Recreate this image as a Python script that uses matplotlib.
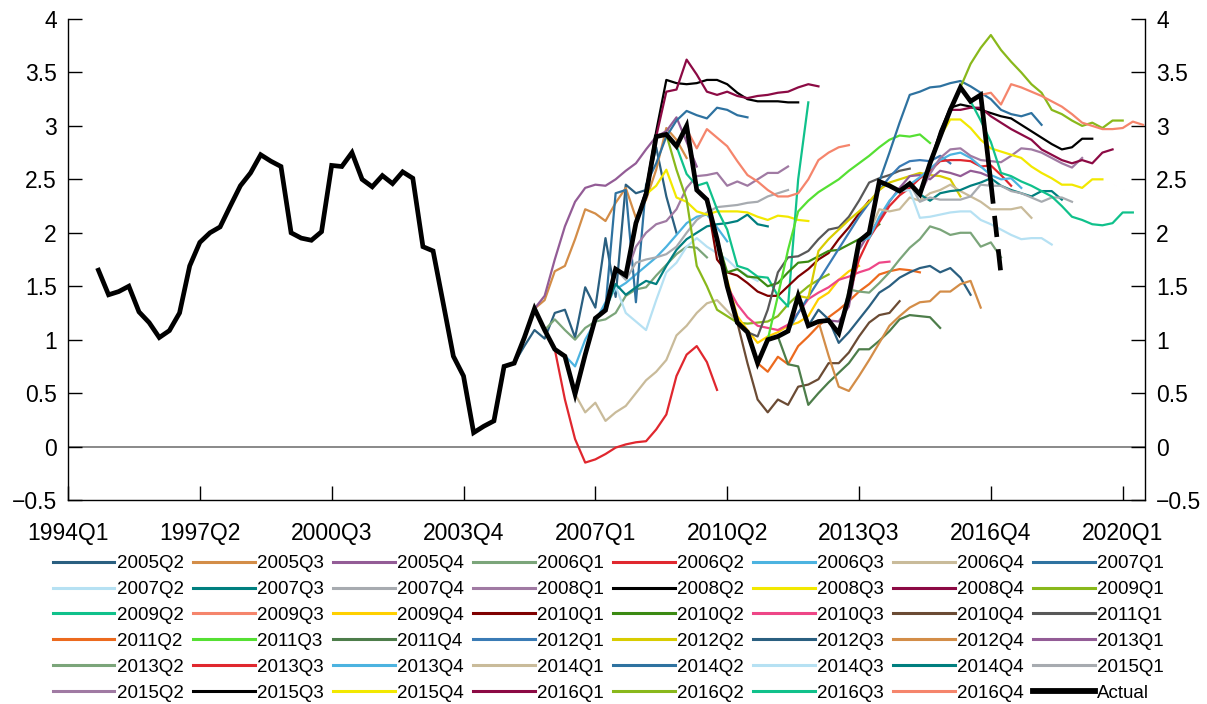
import matplotlib
matplotlib.use("Agg")
import matplotlib.pyplot as plt
from matplotlib.lines import Line2D
import numpy as np

# ---------------- data ----------------
actual_start = "1994Q4"
actual = [1.65, 1.42, 1.45, 1.50, 1.26, 1.16, 1.02, 1.085, 1.25, 1.69, 1.91, 2.00, 2.055,
          2.25, 2.44, 2.56, 2.73, 2.67, 2.62, 2.00, 1.95, 1.93, 2.01, 2.63, 2.62, 2.75,
          2.50, 2.43, 2.535, 2.46, 2.57, 2.51, 1.87, 1.83, 1.34, 0.845, 0.66, 0.13, 0.19,
          0.24, 0.75, 0.78, 1.02, 1.29, 1.09, 0.91, 0.845, 0.49, 0.86, 1.20, 1.275, 1.66,
          1.60, 2.09, 2.36, 2.90, 2.92, 2.81, 3.00, 2.40, 2.31, 1.94, 1.50, 1.16, 1.07,
          0.78, 1.00, 1.03, 1.08, 1.41, 1.13, 1.17, 1.18, 1.06, 1.41, 1.92, 2.00, 2.48,
          2.44, 2.39, 2.46, 2.36, 2.65, 2.90, 3.15, 3.36, 3.23, 3.29, 2.47]
actual_last = 1.61          # dashed final segment (2017Q1)

vintages = ["2005Q2", "2005Q3", "2005Q4", "2006Q1", "2006Q2", "2006Q3", "2006Q4", "2007Q1",
            "2007Q2", "2007Q3", "2007Q4", "2008Q1", "2008Q2", "2008Q3", "2008Q4", "2009Q1",
            "2009Q2", "2009Q3", "2009Q4", "2010Q1", "2010Q2", "2010Q3", "2010Q4", "2011Q1",
            "2011Q2", "2011Q3", "2011Q4", "2012Q1", "2012Q2", "2012Q3", "2012Q4", "2013Q1",
            "2013Q2", "2013Q3", "2013Q4", "2014Q1", "2014Q2", "2014Q3", "2014Q4", "2015Q1",
            "2015Q2", "2015Q3", "2015Q4", "2016Q1", "2016Q2", "2016Q3", "2016Q4"]

# each forecast path starts in the quarter before its vintage
f2005Q2 = [0.78, 0.94, 1.09, 1.01, 1.25, 1.28, 1.02, 1.49, 1.30, 1.95, 1.40, 2.45, 2.37, 2.40, 2.80, 2.34, 2.00]
f2005Q3 = [1.00, 1.29, 1.37, 1.64, 1.69, 1.94, 2.22, 2.18, 2.11, 2.28, 2.42, 2.14, 2.31, 2.59, 2.98, 2.87, 2.70]
f2005Q4 = [1.29, 1.41, 1.75, 2.06, 2.29, 2.42, 2.45, 2.44, 2.50, 2.58, 2.65, 2.78, 2.90, 2.95, 3.08, 2.85, 2.62]
f2006Q1 = [1.09, 1.19, 1.09, 1.00, 1.11, 1.17, 1.19, 1.25, 1.41, 1.47, 1.49, 1.60, 1.70, 1.80, 1.87, 1.86, 1.77]
f2006Q2 = [0.91, 0.44, 0.07, -0.15, -0.12, -0.07, -0.01, 0.02, 0.04, 0.05, 0.16, 0.30, 0.66, 0.86, 0.94, 0.79, 0.53]
f2006Q3 = [0.85, 0.75, 1.00, 1.17, 1.35, 1.47, 1.53, 1.61, 1.69, 1.77, 1.87, 1.98, 2.09, 2.15, 2.17, 2.05, 1.92]
f2006Q4 = [0.49, 0.32, 0.41, 0.24, 0.32, 0.38, 0.50, 0.62, 0.70, 0.81, 1.04, 1.13, 1.25, 1.34, 1.37, 1.27, 1.17]
f2007Q1 = [0.86, 1.20, 1.30, 2.37, 2.40, 1.35, 2.45, 2.65, 2.90, 3.05, 3.14, 3.10, 3.07, 3.17, 3.15, 3.10, 3.08]
f2007Q2 = [1.20, 1.28, 1.50, 1.25, 1.17, 1.09, 1.37, 1.63, 1.72, 1.87, 1.95, 1.87, 1.81, 1.75, 1.66, 1.60, 1.55]
f2007Q3 = [1.28, 1.52, 1.42, 1.49, 1.55, 1.52, 1.69, 1.84, 1.94, 2.00, 2.06, 2.08, 2.09, 2.11, 2.17, 2.08, 2.06]
f2007Q4 = [1.66, 1.56, 1.72, 1.75, 1.77, 1.80, 1.87, 2.00, 2.12, 2.19, 2.24, 2.25, 2.26, 2.28, 2.29, 2.34, 2.37, 2.40]
f2008Q1 = [1.60, 1.87, 2.00, 2.08, 2.11, 2.22, 2.42, 2.53, 2.54, 2.56, 2.44, 2.48, 2.44, 2.50, 2.56, 2.56, 2.62]
f2008Q2 = [2.09, 2.40, 2.95, 3.43, 3.40, 3.39, 3.40, 3.43, 3.43, 3.39, 3.31, 3.25, 3.23, 3.23, 3.23, 3.22, 3.22]
f2008Q3 = [2.36, 2.44, 2.59, 2.33, 2.29, 2.20, 2.17, 2.20, 2.20, 2.20, 2.19, 2.15, 2.12, 2.16, 2.15, 2.12, 2.11]
f2008Q4 = [2.90, 3.32, 3.34, 3.62, 3.48, 3.32, 3.29, 3.32, 3.28, 3.26, 3.28, 3.29, 3.31, 3.32, 3.36, 3.39, 3.37]
f2009Q1 = [2.92, 2.59, 2.31, 1.69, 1.50, 1.28, 1.22, 1.16, 1.15, 1.16, 1.17, 1.22, 1.33, 1.42, 1.50, 1.56, 1.61]
f2009Q2 = [2.81, 2.55, 2.44, 2.47, 2.22, 2.03, 1.69, 1.66, 1.59, 1.58, 1.41, 1.31, 2.50, 3.22]
f2009Q3 = [2.97, 2.79, 2.97, 2.89, 2.81, 2.67, 2.54, 2.48, 2.40, 2.34, 2.34, 2.37, 2.50, 2.68, 2.75, 2.80, 2.82]
f2009Q4 = [2.40, 2.31, 1.95, 1.56, 1.22, 1.09, 0.97, 1.03, 1.07, 1.13, 1.16, 1.22, 1.38, 1.44, 1.56, 1.64, 1.69]
f2010Q1 = [2.31, 1.75, 1.63, 1.60, 1.53, 1.45, 1.41, 1.41, 1.50, 1.59, 1.66, 1.75, 1.81, 1.94, 2.05, 2.18, 2.30]
f2010Q2 = [1.94, 1.63, 1.66, 1.59, 1.58, 1.50, 1.53, 1.63, 1.72, 1.73, 1.78, 1.83, 1.84, 1.89, 1.94, 2.00, 2.08]
f2010Q3 = [1.50, 1.33, 1.21, 1.13, 1.11, 1.09, 1.14, 1.25, 1.38, 1.44, 1.49, 1.56, 1.59, 1.63, 1.66, 1.72, 1.73]
f2010Q4 = [1.16, 0.78, 0.44, 0.32, 0.44, 0.39, 0.56, 0.58, 0.63, 0.78, 0.78, 0.88, 1.03, 1.16, 1.23, 1.25, 1.36]
f2011Q1 = [1.07, 1.03, 1.28, 1.63, 1.77, 1.78, 1.83, 1.94, 2.03, 2.05, 2.15, 2.30, 2.47, 2.51, 2.54, 2.58, 2.60]
f2011Q2 = [0.78, 0.70, 0.84, 0.77, 0.94, 1.03, 1.13, 1.21, 1.28, 1.36, 1.45, 1.52, 1.61, 1.64, 1.66, 1.65, 1.63]
f2011Q3 = [1.00, 1.41, 1.84, 2.20, 2.30, 2.38, 2.44, 2.50, 2.58, 2.65, 2.72, 2.80, 2.87, 2.91, 2.90, 2.92, 2.84]
f2011Q4 = [1.03, 0.77, 0.75, 0.39, 0.50, 0.60, 0.69, 0.78, 0.91, 0.91, 0.99, 1.08, 1.19, 1.23, 1.22, 1.21, 1.11]
f2012Q1 = [1.08, 1.25, 1.40, 1.55, 1.70, 1.85, 2.00, 2.15, 2.28, 2.40, 2.52, 2.62, 2.67, 2.68, 2.67, 2.72, 2.65]
f2012Q2 = [1.41, 1.39, 1.83, 1.94, 2.03, 2.12, 2.20, 2.29, 2.40, 2.47, 2.50, 2.53, 2.56, 2.54, 2.53, 2.50, 2.34]
f2012Q3 = [1.13, 1.28, 1.19, 0.97, 1.07, 1.19, 1.31, 1.44, 1.50, 1.58, 1.63, 1.67, 1.69, 1.63, 1.67, 1.58, 1.42]
f2012Q4 = [1.17, 0.85, 0.56, 0.52, 0.66, 0.81, 0.97, 1.13, 1.22, 1.30, 1.35, 1.36, 1.45, 1.45, 1.52, 1.55, 1.30]
f2013Q1 = [1.18, 1.17, 1.31, 1.84, 2.00, 2.12, 2.29, 2.42, 2.53, 2.54, 2.50, 2.58, 2.56, 2.53, 2.58, 2.56, 2.52]
f2013Q2 = [1.06, 1.47, 1.45, 1.44, 1.53, 1.63, 1.75, 1.86, 1.94, 2.06, 2.03, 1.98, 2.00, 2.00, 1.87, 1.91, 1.77]
f2013Q3 = [1.41, 1.75, 1.95, 2.10, 2.25, 2.35, 2.42, 2.51, 2.58, 2.67, 2.68, 2.68, 2.67, 2.62, 2.63, 2.54, 2.44]
f2013Q4 = [1.92, 1.95, 2.15, 2.30, 2.40, 2.45, 2.52, 2.60, 2.68, 2.73, 2.75, 2.70, 2.62, 2.54, 2.50, 2.51, 2.42]
f2014Q1 = [2.00, 2.22, 2.20, 2.22, 2.33, 2.30, 2.37, 2.40, 2.45, 2.39, 2.34, 2.29, 2.22, 2.22, 2.22, 2.24, 2.14]
f2014Q2 = [2.48, 2.75, 3.03, 3.29, 3.32, 3.36, 3.37, 3.40, 3.42, 3.37, 3.31, 3.25, 3.15, 3.11, 3.09, 3.12, 3.01]
f2014Q3 = [2.44, 2.39, 2.40, 2.14, 2.15, 2.17, 2.19, 2.20, 2.20, 2.12, 2.08, 2.03, 1.98, 1.94, 1.95, 1.95, 1.89]
f2014Q4 = [2.39, 2.45, 2.36, 2.30, 2.37, 2.39, 2.40, 2.44, 2.47, 2.51, 2.44, 2.40, 2.37, 2.34, 2.39, 2.39, 2.31]
f2015Q1 = [2.46, 2.29, 2.33, 2.31, 2.31, 2.31, 2.34, 2.45, 2.44, 2.44, 2.39, 2.37, 2.33, 2.29, 2.33, 2.33, 2.29]
f2015Q2 = [2.36, 2.55, 2.70, 2.78, 2.79, 2.72, 2.68, 2.67, 2.66, 2.72, 2.79, 2.78, 2.75, 2.70, 2.65, 2.61, 2.70]
f2015Q3 = [2.65, 2.95, 3.17, 3.20, 3.18, 3.15, 3.12, 3.09, 3.07, 3.01, 2.95, 2.89, 2.83, 2.78, 2.80, 2.88, 2.88]
f2015Q4 = [2.90, 3.06, 3.06, 2.98, 2.87, 2.79, 2.76, 2.73, 2.70, 2.62, 2.56, 2.51, 2.45, 2.45, 2.42, 2.50, 2.50]
f2016Q1 = [3.15, 3.15, 3.17, 3.17, 3.09, 3.03, 2.97, 2.92, 2.87, 2.78, 2.73, 2.68, 2.65, 2.68, 2.65, 2.75, 2.78]
f2016Q2 = [3.36, 3.58, 3.73, 3.85, 3.71, 3.60, 3.50, 3.39, 3.31, 3.15, 3.11, 3.05, 3.00, 3.03, 2.98, 3.05, 3.05]
f2016Q3 = [3.23, 3.05, 2.85, 2.56, 2.53, 2.48, 2.44, 2.39, 2.34, 2.25, 2.15, 2.12, 2.08, 2.07, 2.09, 2.19, 2.19]
f2016Q4 = [3.29, 3.31, 3.20, 3.39, 3.36, 3.32, 3.28, 3.23, 3.18, 3.11, 3.03, 3.00, 2.97, 2.97, 2.98, 3.04, 3.01]

forecasts = [f2005Q2, f2005Q3, f2005Q4, f2006Q1, f2006Q2, f2006Q3, f2006Q4, f2007Q1,
             f2007Q2, f2007Q3, f2007Q4, f2008Q1, f2008Q2, f2008Q3, f2008Q4, f2009Q1,
             f2009Q2, f2009Q3, f2009Q4, f2010Q1, f2010Q2, f2010Q3, f2010Q4, f2011Q1,
             f2011Q2, f2011Q3, f2011Q4, f2012Q1, f2012Q2, f2012Q3, f2012Q4, f2013Q1,
             f2013Q2, f2013Q3, f2013Q4, f2014Q1, f2014Q2, f2014Q3, f2014Q4, f2015Q1,
             f2015Q2, f2015Q3, f2015Q4, f2016Q1, f2016Q2, f2016Q3, f2016Q4]

xtick_labels = ["1994Q1", "1997Q2", "2000Q3", "2003Q4", "2007Q1", "2010Q2", "2013Q3", "2016Q4", "2020Q1"]
yticks = [-0.5, 0, 0.5, 1, 1.5, 2, 2.5, 3, 3.5, 4]

palette = ["#2a5f80", "#d38d48", "#935c96", "#7ba57a", "#e0272e", "#4cb3e0", "#c9bb9a",
           "#2e72a0", "#b6e1f3", "#007f7f", "#a7abb0", "#a07aa3", "#000000", "#f2e800",
           "#8c0a44", "#89b81b", "#10c18b", "#f5856c", "#ffd000", "#7f0000", "#3b8a12",
           "#ee4687", "#6b4b34", "#585858", "#ec6a1e", "#55e033", "#4d7d4a", "#3a7bb5",
           "#d8cc00"]


def qidx(label):
    """Quarter label -> integer quarter count from 1994Q1."""
    return (int(label[:4]) - 1994) * 4 + int(label[5]) - 1


# ---------------- figure ----------------
plt.rcParams["font.family"] = ["Liberation Sans", "DejaVu Sans"]
plt.rcParams["axes.unicode_minus"] = True

W, H = 1207, 704
fig = plt.figure(figsize=(W / 100, H / 100), dpi=100)
ax = fig.add_axes([68 / W, 1 - 500 / H, (1145 - 68) / W, (500 - 19) / H])

ax.axhline(0, color="#808080", lw=1.3, zorder=1)

handles = []
for i, (vint, vals) in enumerate(zip(vintages, forecasts)):
    s = qidx(vint) - 1
    x = np.arange(s, s + len(vals))
    col = palette[i % len(palette)]
    ax.plot(x, vals, color=col, lw=1.6, zorder=2, solid_joinstyle="round")
    handles.append(Line2D([], [], color=col, lw=2.2, label=vint))

a0 = qidx(actual_start)
xa = np.arange(a0, a0 + len(actual))
ax.plot(xa, actual, color="black", lw=3.4, zorder=5, solid_joinstyle="miter")
ax.plot([xa[-1], xa[-1] + 1], [actual[-1], actual_last], color="black", lw=3.4,
        zorder=5, dashes=(4.5, 2.6), dash_capstyle="butt")
handles.append(Line2D([], [], color="black", lw=4.2, label="Actual"))

ax.set_xlim(qidx("1994Q1"), qidx("2020Q3") + 0.2)
ax.set_ylim(-0.5, 4)
ax.set_xticks([qidx(t) for t in xtick_labels])
ax.set_xticklabels(xtick_labels)
ax.set_yticks(yticks)
ax.set_yticklabels([f"{v:g}".replace("-", "\u2212") for v in yticks])

for side in ["left", "right", "bottom"]:
    ax.spines[side].set_color("black")
    ax.spines[side].set_linewidth(1.0)
ax.spines["top"].set_visible(False)

ax.tick_params(axis="y", which="both", left=True, right=True, labelleft=True,
               labelright=True, direction="in", length=10, width=1, pad=8,
               labelsize=16.5)
ax.tick_params(axis="x", direction="in", length=10, width=1, pad=16,
               labelsize=16.5)

# legend laid out row by row (8 columns, 6 rows)
ncol, nrow = 8, 6
ordered = [handles[r * ncol + c] for c in range(ncol) for r in range(nrow)]
fig.legend(handles=ordered, ncol=ncol, loc="upper left",
           bbox_to_anchor=(52.5 / W, 1 - 555 / H), frameon=False,
           fontsize=13.5, handlelength=3.3, handletextpad=0.15,
           columnspacing=0.45, labelspacing=0.47, borderpad=0, borderaxespad=0)

fig.savefig("out.png", dpi=100)
